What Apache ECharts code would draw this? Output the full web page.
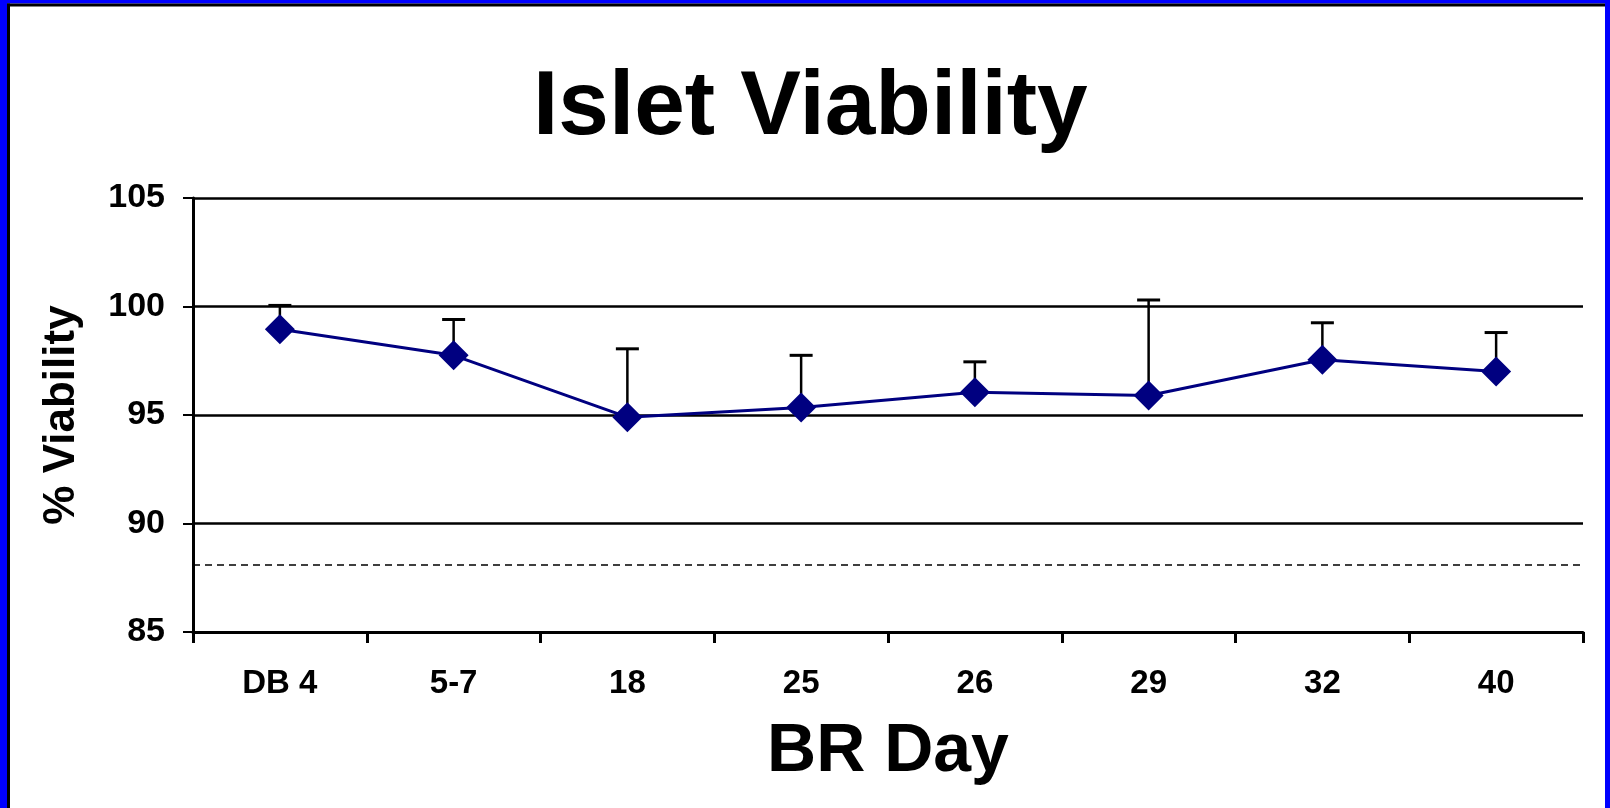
<!DOCTYPE html>
<html>
<head>
<meta charset="utf-8">
<script src="https://cdn.jsdelivr.net/npm/echarts@6/dist/echarts.min.js"></script>
<style>
  html, body { margin: 0; padding: 0; background: #fff; }
  #chart { width: 1610px; height: 808px; }
</style>
</head>
<body>
<div id="chart"></div>
<script>
// ---- data ----
const categories = ['DB 4', '5-7', '18', '25', '26', '29', '32', '40'];
const viability = [98.95, 97.75, 94.9, 95.35, 96.05, 95.9, 97.55, 97.0];
const upperError = [100.05, 99.4, 98.05, 97.75, 97.45, 100.3, 99.25, 98.8];
const referenceLine = 88.1;
const yTicks = { min: 85, max: 105, interval: 5 };

const FONT = "'Liberation Sans', Arial, sans-serif";
const chart = echarts.init(document.getElementById('chart'), null, { renderer: 'canvas' });

const errData = categories.map((c, i) => [i, viability[i], upperError[i]]);

chart.setOption({
  backgroundColor: '#ffffff',
  animation: false,
  title: {
    text: 'Islet Viability',
    left: 533,
    top: 63,
    padding: 0,
    textStyle: { fontFamily: FONT, fontWeight: 'bold', fontSize: 91, color: '#000', lineHeight: 91 }
  },
  graphic: [
    { type: 'rect', shape: { x: 0, y: 0, width: 7, height: 808 }, style: { fill: '#0000ff' }, z: 100 },
    { type: 'rect', shape: { x: 0, y: 0, width: 1610, height: 3.5 }, style: { fill: '#0000ff' }, z: 100 },
    { type: 'rect', shape: { x: 1605, y: 0, width: 5, height: 808 }, style: { fill: '#0000ff' }, z: 100 },
    { type: 'rect', shape: { x: 7, y: 3.5, width: 3, height: 808 }, style: { fill: '#000' }, z: 100 },
    { type: 'rect', shape: { x: 7, y: 3.5, width: 1598, height: 3 }, style: { fill: '#000' }, z: 100 }
  ],
  grid: { left: 193, right: 27, top: 198, bottom: 176, containLabel: false },
  xAxis: {
    type: 'category',
    data: categories,
    boundaryGap: true,
    name: 'BR Day',
    nameLocation: 'middle',
    nameGap: 86,
    nameTextStyle: { fontFamily: FONT, fontWeight: 'bold', fontSize: 68, color: '#000' },
    axisLine: { show: true, lineStyle: { color: '#000', width: 3 } },
    axisTick: { show: true, alignWithLabel: false, length: 11, lineStyle: { color: '#000', width: 3 } },
    axisLabel: { fontFamily: FONT, fontWeight: 'bold', fontSize: 33, color: '#000', margin: 35 },
    splitLine: { show: false }
  },
  yAxis: {
    type: 'value',
    min: yTicks.min,
    max: yTicks.max,
    interval: yTicks.interval,
    name: '% Viability',
    nameLocation: 'middle',
    nameGap: 109,
    nameRotate: 90,
    nameTextStyle: { fontFamily: FONT, fontWeight: 'bold', fontSize: 44, color: '#000' },
    axisLine: { show: true, lineStyle: { color: '#000', width: 3 } },
    axisTick: { show: true, length: 10, lineStyle: { color: '#000', width: 2 } },
    axisLabel: { fontFamily: FONT, fontWeight: 'bold', fontSize: 34, color: '#000', margin: 28 },
    splitLine: { show: true, lineStyle: { color: '#000', width: 2.5 } }
  },
  series: [
    {
      type: 'custom',
      name: 'error',
      data: errData,
      z: 1,
      renderItem: function (params, api) {
        const i = api.value(0);
        const p0 = api.coord([i, api.value(1)]);
        const p1 = api.coord([i, api.value(2)]);
        const half = 11.5;
        return {
          type: 'group',
          children: [
            { type: 'line', shape: { x1: p0[0], y1: p0[1], x2: p1[0], y2: p1[1] }, style: { stroke: '#000', lineWidth: 2.5 } },
            { type: 'line', shape: { x1: p1[0] - half, y1: p1[1], x2: p1[0] + half, y2: p1[1] }, style: { stroke: '#000', lineWidth: 3 } }
          ]
        };
      }
    },
    {
      type: 'line',
      name: 'Viability',
      data: viability,
      z: 3,
      symbol: 'diamond',
      symbolSize: 30,
      showAllSymbol: true,
      itemStyle: { color: '#000080' },
      lineStyle: { color: '#000080', width: 3 },
      markLine: {
        silent: true,
        symbol: 'none',
        label: { show: false },
        lineStyle: { color: '#000', type: [7, 5], width: 1.5 },
        data: [{ yAxis: referenceLine }]
      }
    }
  ]
});
</script>
</body>
</html>
